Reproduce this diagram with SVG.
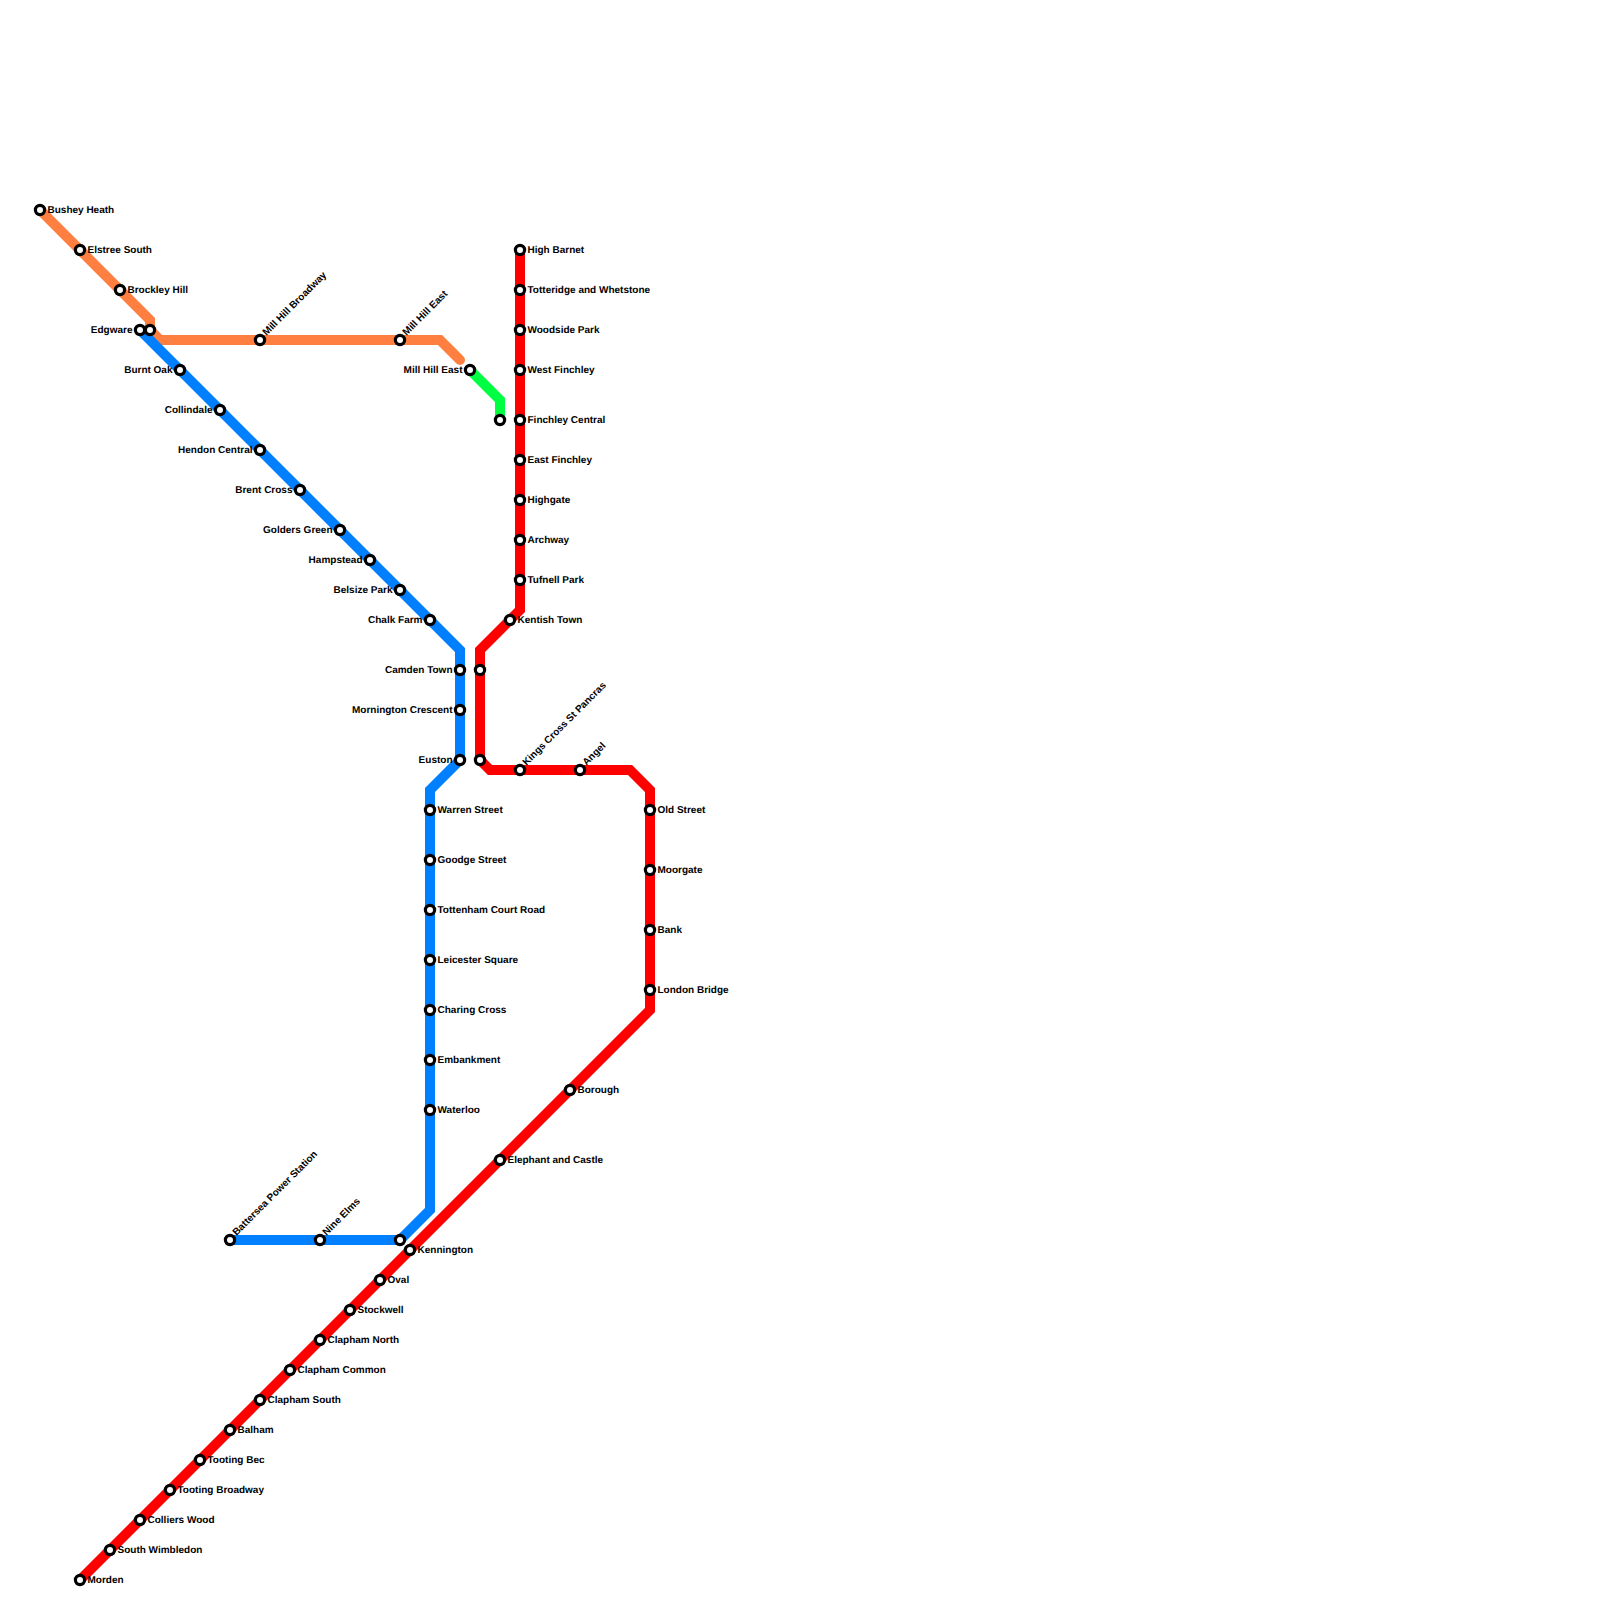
<svg xmlns="http://www.w3.org/2000/svg" width="1600" height="1600" viewBox="0 0 1600 1600">
<style>
.l{fill:none;stroke-width:10;stroke-linejoin:miter;stroke-linecap:round}
.s{fill:#fff;stroke:#000;stroke-width:3.2}
text{font-family:"Liberation Sans",Arial,sans-serif;font-size:10px;font-weight:700;fill:#000;text-rendering:geometricPrecision}
text:not([transform]){transform:translateY(-.5px)}
.e{text-anchor:end}
</style>
<rect width="1600" height="1600" fill="#fff"/>
<g id="connectors">
<polyline class="l" stroke="#ff7f41" points="40,210 150,320 150,330 160,340 440,340 460,360"/>
<polyline class="l" stroke="#0080ff" points="140,330 460,650 460,760 430,790 430,1210 400,1240 230,1240"/>
<polyline class="l" stroke="#00ff40" points="470,370 500,400 500,420"/>
<polyline class="l" stroke="#ff0000" points="520,250 520,610 480,650 480,760 490,770 630,770 650,790 650,1010 80,1580"/>
</g>
<g id="bushey-heath"><circle class="s" cx="40" cy="210" r="4.6"/><text x="47.5" y="213">Bushey Heath</text></g>
<g id="elstree-south"><circle class="s" cx="80" cy="250" r="4.6"/><text x="87.5" y="253">Elstree South</text></g>
<g id="brockley-hill"><circle class="s" cx="120" cy="290" r="4.6"/><text x="127.5" y="293">Brockley Hill</text></g>
<g id="edgware"><circle class="s" cx="140" cy="330" r="4.6"/><text class="e" x="132.5" y="333">Edgware</text></g>
<g id="edgware-2"><circle class="s" cx="150" cy="330" r="4.6"/></g>
<g id="mill-hill-broadway"><circle class="s" cx="260" cy="340" r="4.6"/><text transform="translate(266.5,336) rotate(-45)">Mill Hill Broadway</text></g>
<g id="mill-hill-east-1"><circle class="s" cx="400" cy="340" r="4.6"/><text transform="translate(406.5,336) rotate(-45)">Mill Hill East</text></g>
<g id="mill-hill-east"><circle class="s" cx="470" cy="370" r="4.6"/><text class="e" x="462.5" y="373">Mill Hill East</text></g>
<g id="finchley-branch"><circle class="s" cx="500" cy="420" r="4.6"/></g>
<g id="burnt-oak"><circle class="s" cx="180" cy="370" r="4.6"/><text class="e" x="172.5" y="373">Burnt Oak</text></g>
<g id="collindale"><circle class="s" cx="220" cy="410" r="4.6"/><text class="e" x="212.5" y="413">Collindale</text></g>
<g id="hendon-central"><circle class="s" cx="260" cy="450" r="4.6"/><text class="e" x="252.5" y="453">Hendon Central</text></g>
<g id="brent-cross"><circle class="s" cx="300" cy="490" r="4.6"/><text class="e" x="292.5" y="493">Brent Cross</text></g>
<g id="golders-green"><circle class="s" cx="340" cy="530" r="4.6"/><text class="e" x="332.5" y="533">Golders Green</text></g>
<g id="hampstead"><circle class="s" cx="370" cy="560" r="4.6"/><text class="e" x="362.5" y="563">Hampstead</text></g>
<g id="belsize-park"><circle class="s" cx="400" cy="590" r="4.6"/><text class="e" x="392.5" y="593">Belsize Park</text></g>
<g id="chalk-farm"><circle class="s" cx="430" cy="620" r="4.6"/><text class="e" x="422.5" y="623">Chalk Farm</text></g>
<g id="camden-town"><circle class="s" cx="460" cy="670" r="4.6"/><text class="e" x="452.5" y="673">Camden Town</text></g>
<g id="mornington-crescent"><circle class="s" cx="460" cy="710" r="4.6"/><text class="e" x="452.5" y="713">Mornington Crescent</text></g>
<g id="euston"><circle class="s" cx="460" cy="760" r="4.6"/><text class="e" x="452.5" y="763">Euston</text></g>
<g id="warren-street"><circle class="s" cx="430" cy="810" r="4.6"/><text x="437.5" y="813">Warren Street</text></g>
<g id="goodge-street"><circle class="s" cx="430" cy="860" r="4.6"/><text x="437.5" y="863">Goodge Street</text></g>
<g id="tottenham-court-road"><circle class="s" cx="430" cy="910" r="4.6"/><text x="437.5" y="913">Tottenham Court Road</text></g>
<g id="leicester-square"><circle class="s" cx="430" cy="960" r="4.6"/><text x="437.5" y="963">Leicester Square</text></g>
<g id="charing-cross"><circle class="s" cx="430" cy="1010" r="4.6"/><text x="437.5" y="1013">Charing Cross</text></g>
<g id="embankment"><circle class="s" cx="430" cy="1060" r="4.6"/><text x="437.5" y="1063">Embankment</text></g>
<g id="waterloo"><circle class="s" cx="430" cy="1110" r="4.6"/><text x="437.5" y="1113">Waterloo</text></g>
<g id="kennington-blue"><circle class="s" cx="400" cy="1240" r="4.6"/></g>
<g id="nine-elms"><circle class="s" cx="320" cy="1240" r="4.6"/><text transform="translate(326.5,1236) rotate(-45)">Nine Elms</text></g>
<g id="battersea-power-station"><circle class="s" cx="230" cy="1240" r="4.6"/><text transform="translate(236.5,1236) rotate(-45)">Battersea Power Station</text></g>
<g id="high-barnet"><circle class="s" cx="520" cy="250" r="4.6"/><text x="527.5" y="253">High Barnet</text></g>
<g id="totteridge-and-whetstone"><circle class="s" cx="520" cy="290" r="4.6"/><text x="527.5" y="293">Totteridge and Whetstone</text></g>
<g id="woodside-park"><circle class="s" cx="520" cy="330" r="4.6"/><text x="527.5" y="333">Woodside Park</text></g>
<g id="west-finchley"><circle class="s" cx="520" cy="370" r="4.6"/><text x="527.5" y="373">West Finchley</text></g>
<g id="finchley-central"><circle class="s" cx="520" cy="420" r="4.6"/><text x="527.5" y="423">Finchley Central</text></g>
<g id="east-finchley"><circle class="s" cx="520" cy="460" r="4.6"/><text x="527.5" y="463">East Finchley</text></g>
<g id="highgate"><circle class="s" cx="520" cy="500" r="4.6"/><text x="527.5" y="503">Highgate</text></g>
<g id="archway"><circle class="s" cx="520" cy="540" r="4.6"/><text x="527.5" y="543">Archway</text></g>
<g id="tufnell-park"><circle class="s" cx="520" cy="580" r="4.6"/><text x="527.5" y="583">Tufnell Park</text></g>
<g id="kentish-town"><circle class="s" cx="510" cy="620" r="4.6"/><text x="517.5" y="623">Kentish Town</text></g>
<g id="camden-red"><circle class="s" cx="480" cy="670" r="4.6"/></g>
<g id="euston-red"><circle class="s" cx="480" cy="760" r="4.6"/></g>
<g id="kings-cross"><circle class="s" cx="520" cy="770" r="4.6"/><text transform="translate(526.5,766) rotate(-45)">Kings Cross St Pancras</text></g>
<g id="angel"><circle class="s" cx="580" cy="770" r="4.6"/><text transform="translate(586.5,766) rotate(-45)">Angel</text></g>
<g id="old-street"><circle class="s" cx="650" cy="810" r="4.6"/><text x="657.5" y="813">Old Street</text></g>
<g id="moorgate"><circle class="s" cx="650" cy="870" r="4.6"/><text x="657.5" y="873">Moorgate</text></g>
<g id="bank"><circle class="s" cx="650" cy="930" r="4.6"/><text x="657.5" y="933">Bank</text></g>
<g id="london-bridge"><circle class="s" cx="650" cy="990" r="4.6"/><text x="657.5" y="993">London Bridge</text></g>
<g id="borough"><circle class="s" cx="570" cy="1090" r="4.6"/><text x="577.5" y="1093">Borough</text></g>
<g id="elephant-and-castle"><circle class="s" cx="500" cy="1160" r="4.6"/><text x="507.5" y="1163">Elephant and Castle</text></g>
<g id="kennington"><circle class="s" cx="410" cy="1250" r="4.6"/><text x="417.5" y="1253">Kennington</text></g>
<g id="oval"><circle class="s" cx="380" cy="1280" r="4.6"/><text x="387.5" y="1283">Oval</text></g>
<g id="stockwell"><circle class="s" cx="350" cy="1310" r="4.6"/><text x="357.5" y="1313">Stockwell</text></g>
<g id="clapham-north"><circle class="s" cx="320" cy="1340" r="4.6"/><text x="327.5" y="1343">Clapham North</text></g>
<g id="clapham-common"><circle class="s" cx="290" cy="1370" r="4.6"/><text x="297.5" y="1373">Clapham Common</text></g>
<g id="clapham-south"><circle class="s" cx="260" cy="1400" r="4.6"/><text x="267.5" y="1403">Clapham South</text></g>
<g id="balham"><circle class="s" cx="230" cy="1430" r="4.6"/><text x="237.5" y="1433">Balham</text></g>
<g id="tooting-bec"><circle class="s" cx="200" cy="1460" r="4.6"/><text x="207.5" y="1463">Tooting Bec</text></g>
<g id="tooting-broadway"><circle class="s" cx="170" cy="1490" r="4.6"/><text x="177.5" y="1493">Tooting Broadway</text></g>
<g id="colliers-wood"><circle class="s" cx="140" cy="1520" r="4.6"/><text x="147.5" y="1523">Colliers Wood</text></g>
<g id="south-wimbledon"><circle class="s" cx="110" cy="1550" r="4.6"/><text x="117.5" y="1553">South Wimbledon</text></g>
<g id="morden"><circle class="s" cx="80" cy="1580" r="4.6"/><text x="87.5" y="1583">Morden</text></g>
</svg>
